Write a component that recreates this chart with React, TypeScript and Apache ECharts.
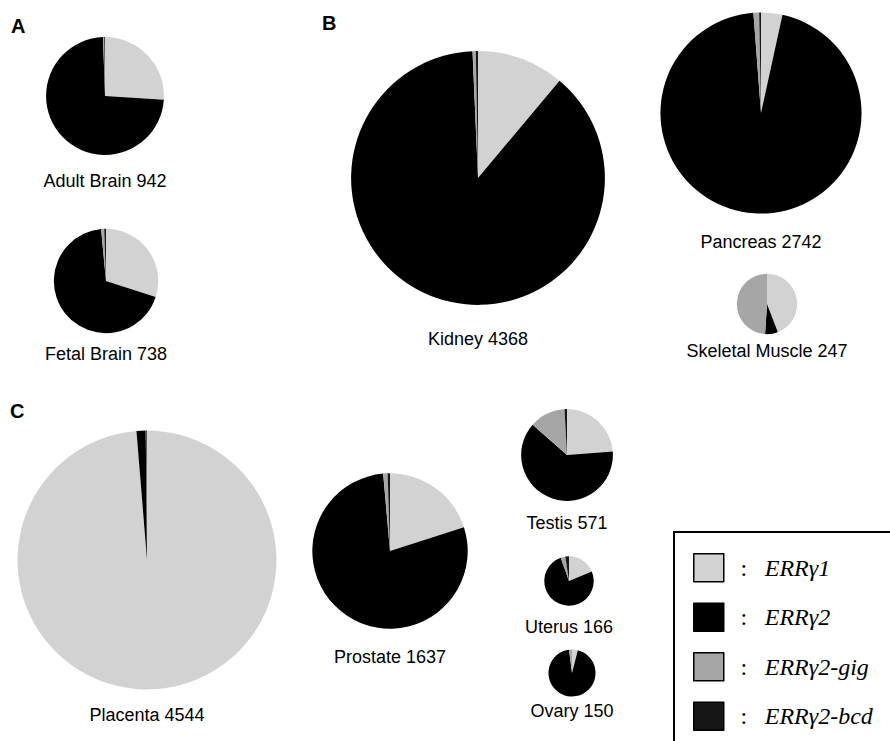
import React, { useEffect, useRef } from "react";
import * as echarts from "echarts";

// Isoform classes, in the order slices run clockwise from 12 o'clock
const isoforms = ["ERRγ1", "ERRγ2", "ERRγ2-gig", "ERRγ2-bcd"];
const isoformColors = ["#d2d2d2", "#000000", "#a6a6a6", "#161616"];

const tissues = [
  "Adult Brain",
  "Fetal Brain",
  "Kidney",
  "Pancreas",
  "Skeletal Muscle",
  "Placenta",
  "Prostate",
  "Testis",
  "Uterus",
  "Ovary",
];
const totals = [942, 738, 4368, 2742, 247, 4544, 1637, 571, 166, 150];

// Clone counts per isoform, one entry per tissue
const errG1 = [245, 221, 485, 94, 109, 4485, 328, 136, 31, 6];
const errG2 = [692, 506, 3853, 2615, 17, 52, 1286, 358, 126, 141];
const errG2gig = [3, 7, 18, 25, 121, 3, 15, 72, 5, 3];
const errG2bcd = [2, 4, 12, 8, 0, 4, 8, 5, 4, 0];

// Pie placement (centre, caption line) on the page
const layout = [
  { cx: 105, cy: 96, ly: 181 },
  { cx: 106, cy: 281, ly: 354 },
  { cx: 478, cy: 178, ly: 339 },
  { cx: 761, cy: 113, ly: 242 },
  { cx: 767, cy: 304, ly: 351 },
  { cx: 147, cy: 560, ly: 715 },
  { cx: 390, cy: 551, ly: 657 },
  { cx: 567, cy: 455, ly: 523 },
  { cx: 569, cy: 581, ly: 627 },
  { cx: 572, cy: 673, ly: 711 },
];

const panels = [
  { text: "A", x: 11, y: 16 },
  { text: "B", x: 322, y: 13 },
  { text: "C", x: 10, y: 401 },
];

// pie area is proportional to the number of clones
const radiusScale = 1.92;

export default function App() {
  const ref = useRef<HTMLDivElement>(null);

  useEffect(() => {
    if (!ref.current) return;
    const chart = echarts.init(ref.current, undefined, { renderer: "svg" });
    const counts = [errG1, errG2, errG2gig, errG2bcd];

    const series = tissues.map((t, i) => ({
      type: "pie",
      name: t,
      center: [layout[i].cx, layout[i].cy],
      radius: radiusScale * Math.sqrt(totals[i]),
      startAngle: 90,
      clockwise: true,
      silent: true,
      avoidLabelOverlap: false,
      label: { show: false },
      labelLine: { show: false },
      itemStyle: { borderWidth: 0 },
      emphasis: { disabled: true },
      data: isoforms.map((name, k) => ({ name, value: counts[k][i] })),
    }));

    const captions = tissues.map((t, i) => ({
      type: "text",
      x: layout[i].cx,
      y: layout[i].ly,
      style: {
        text: `${t} ${totals[i]}`,
        textAlign: "center",
        textVerticalAlign: "middle",
        fontFamily: "Liberation Sans, Arial, sans-serif",
        fontSize: 18,
        fill: "#000",
      },
    }));

    const letters = panels.map((p) => ({
      type: "text",
      x: p.x,
      y: p.y,
      style: {
        text: p.text,
        fontFamily: "Liberation Sans, Arial, sans-serif",
        fontWeight: "bold",
        fontSize: 20,
        fill: "#000",
      },
    }));

    chart.setOption({
      animation: false,
      backgroundColor: "#ffffff",
      color: isoformColors,
      legend: {
        orient: "vertical",
        left: 693,
        top: 553,
        padding: 0,
        itemWidth: 30,
        itemHeight: 28,
        itemGap: 20,
        icon: "rect",
        selectedMode: false,
        data: isoforms,
        itemStyle: { borderColor: "#000", borderWidth: 1.5 },
        formatter: (n: string) => `{c|:}{t|${n}}`,
        textStyle: {
          rich: {
            c: {
              fontFamily: "Liberation Serif, Times New Roman, serif",
              fontSize: 24,
              width: 30,
              align: "center",
              lineHeight: 28,
              color: "#000",
            },
            t: {
              fontFamily: "Liberation Serif, Times New Roman, serif",
              fontStyle: "italic",
              fontSize: 24,
              lineHeight: 28,
              padding: [0, 0, 0, 6],
              color: "#000",
            },
          },
        },
      },
      graphic: [
        {
          type: "rect",
          shape: { x: 674, y: 532, width: 240, height: 240 },
          style: { fill: "none", stroke: "#000", lineWidth: 2 },
        },
        ...letters,
        ...captions,
      ],
      series,
    });

    return () => chart.dispose();
  }, []);

  return (
    <div
      ref={ref}
      style={{ position: "fixed", left: 0, top: 0, width: 890, height: 741, background: "#fff" }}
    />
  );
}
